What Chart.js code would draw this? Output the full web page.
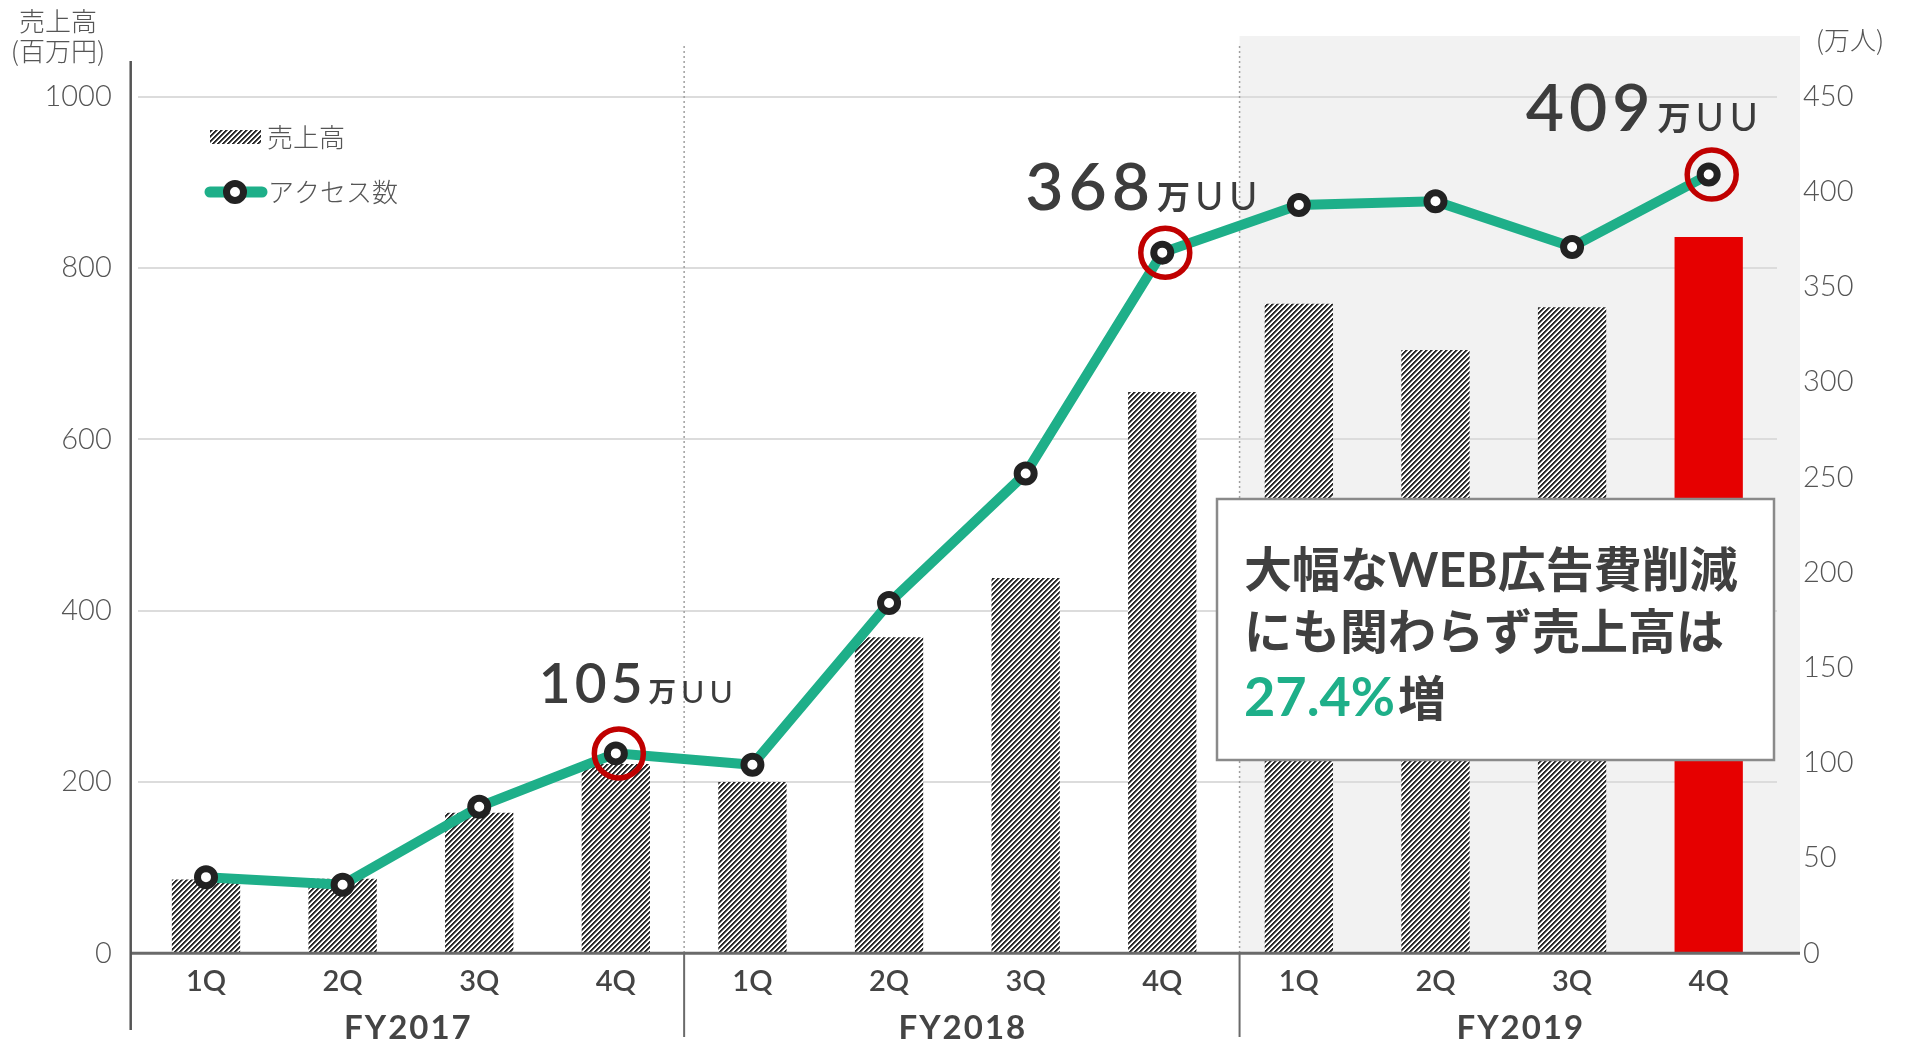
<!DOCTYPE html>
<html>
<head>
<meta charset="utf-8">
<script src="https://cdn.jsdelivr.net/npm/chart.js@4/dist/chart.umd.min.js"></script>
<style>
html,body{margin:0;padding:0;background:#fff;}
canvas{display:block;}
</style>
</head>
<body>
<canvas id="c" width="1908" height="1046"></canvas>
<script>
// ---------- data ----------
const quarterLabels = ['1Q','2Q','3Q','4Q','1Q','2Q','3Q','4Q','1Q','2Q','3Q','4Q'];
const fiscalYears = ['FY2017','FY2018','FY2019'];
const salesValues = [86, 87, 164, 221, 200, 369, 438, 655, 758, 704, 754, 836];   // 百万円
const accessValues = [40, 36, 77, 105, 99, 184, 252, 368, 393, 395, 371, 409];    // 万人
const salesTickStep = 200;
const salesMax = 1000;
const accessTickStep = 50;
const accessMax = 450;
const highlightIndex = [3, 7, 11];
const seriesNames = ['売上高', 'アクセス数'];
const leftAxisTitle = ['売上高', '(百万円)'];
const rightAxisTitle = '(万人)';
const noteLines = ['大幅なWEB広告費削減', 'にも関わらず売上高は'];
const noteGrowth = '27.4%';
const noteSuffix = '増';
const calloutUnit = ['万', 'UU'];

// ---------- styles ----------
const GREEN = '#1eaf89';
const RED_BAR = '#e60000';
const RED_RING = '#c00000';
const TEXT = '#444444';
const LATIN = 'Lato, "Noto Sans CJK JP", sans-serif';
const CJK = '"Noto Sans CJK JP", Lato, sans-serif';

const canvas = document.getElementById('c');
const mainCtx = canvas.getContext('2d');

function makeHatch() {
  const s = 5;
  const c = document.createElement('canvas');
  c.width = s; c.height = s;
  const g = c.getContext('2d');
  const img = g.createImageData(s, s);
  for (let y = 0; y < s; y++) {
    for (let x = 0; x < s; x++) {
      const k = (x + y) % s;
      const v = k < 2 ? 0x2a : (k === 2 ? 0x80 : 0xff);
      const i = (y * s + x) * 4;
      img.data[i] = v; img.data[i + 1] = v; img.data[i + 2] = v; img.data[i + 3] = 255;
    }
  }
  g.putImageData(img, 0, 0);
  return mainCtx.createPattern(c, 'repeat');
}
const hatch = makeHatch();
const barColors = salesValues.map((v, i) => i === salesValues.length - 1 ? RED_BAR : hatch);

function drawCallout(ctx, left, baseline, num, numSize, unitSize) {
  ctx.save();
  ctx.fillStyle = '#3c3c3c';
  ctx.textBaseline = 'alphabetic';
  ctx.textAlign = 'left';
  ctx.font = `600 ${numSize}px ${LATIN}`;
  ctx.letterSpacing = Math.round(numSize * 0.07) + 'px';
  ctx.fillText(num, left, baseline);
  let x = left + ctx.measureText(num).width + 2;
  ctx.font = `600 ${unitSize * 0.92}px ${CJK}`;
  ctx.letterSpacing = '0px';
  ctx.fillText(calloutUnit[0], x, baseline - 1);
  x += ctx.measureText(calloutUnit[0]).width + 5;
  ctx.font = `400 ${unitSize * 1.06}px ${LATIN}`;
  ctx.letterSpacing = Math.round(unitSize * 0.16) + 'px';
  ctx.fillText(calloutUnit[1], x, baseline);
  ctx.restore();
}

const decor = {
  id: 'decor',
  beforeDraw(chart) {
    const { ctx, chartArea, scales: { x } } = chart;
    const sep2 = (x.getPixelForValue(7) + x.getPixelForValue(8)) / 2 + 9;
    ctx.save();
    ctx.fillStyle = '#f2f2f2';
    ctx.fillRect(sep2, 36, chartArea.right + 23 - sep2, chartArea.bottom - 36);
    ctx.restore();
  },
  beforeDatasetsDraw(chart) {
    const { ctx, chartArea, scales: { x } } = chart;
    const seps = [(x.getPixelForValue(3) + x.getPixelForValue(4)) / 2,
                  (x.getPixelForValue(7) + x.getPixelForValue(8)) / 2 + 9];
    ctx.save();
    ctx.strokeStyle = '#a0a0a0';
    ctx.lineWidth = 1.5;
    ctx.setLineDash([2, 3]);
    seps.forEach(sx => {
      ctx.beginPath();
      ctx.moveTo(sx, 46);
      ctx.lineTo(sx, chartArea.bottom);
      ctx.stroke();
    });
    ctx.restore();
  },
  afterDatasetsDraw(chart) {
    const { ctx, chartArea, scales: { x } } = chart;
    const axisX = chartArea.left - 7;
    const seps = [(x.getPixelForValue(3) + x.getPixelForValue(4)) / 2,
                  (x.getPixelForValue(7) + x.getPixelForValue(8)) / 2 + 9];
    const rightEnd = chartArea.right + 23;
    ctx.save();
    // baseline (0) line
    ctx.strokeStyle = '#6a6a6a';
    ctx.lineWidth = 3;
    ctx.beginPath();
    ctx.moveTo(axisX, chartArea.bottom);
    ctx.lineTo(rightEnd, chartArea.bottom);
    ctx.stroke();
    // left axis line
    ctx.strokeStyle = '#555';
    ctx.lineWidth = 2.5;
    ctx.beginPath();
    ctx.moveTo(axisX, 61);
    ctx.lineTo(axisX, 1030);
    ctx.stroke();
    // solid separators below axis
    ctx.strokeStyle = '#6a6a6a';
    ctx.lineWidth = 2;
    seps.forEach(sx => {
      ctx.beginPath();
      ctx.moveTo(sx, chartArea.bottom);
      ctx.lineTo(sx, 1037);
      ctx.stroke();
    });
    // fiscal year labels
    const bounds = [axisX, seps[0], seps[1], rightEnd];
    ctx.fillStyle = TEXT;
    ctx.font = `700 33px ${LATIN}`;
    ctx.letterSpacing = '2px';
    ctx.textAlign = 'center';
    ctx.textBaseline = 'middle';
    fiscalYears.forEach((fy, i) => {
      ctx.fillText(fy, (bounds[i] + bounds[i + 1]) / 2 + 1, 1028);
    });
    ctx.letterSpacing = '0px';

    // red rings on highlighted points
    const lineMeta = chart.getDatasetMeta(0);
    ctx.strokeStyle = RED_RING;
    ctx.lineWidth = 5.5;
    highlightIndex.forEach(i => {
      const p = lineMeta.data[i];
      ctx.beginPath();
      ctx.arc(p.x + 3, p.y, 24.5, 0, Math.PI * 2);
      ctx.stroke();
    });
    // callouts
    const specs = [
      { dx: -77, dy: -50, big: 55, small: 30 },
      { dx: -137, dy: -43, big: 66, small: 36 },
      { dx: -183, dy: -44, big: 66, small: 36 }
    ];
    highlightIndex.forEach((i, k) => {
      const p = lineMeta.data[i];
      const s = specs[k];
      drawCallout(ctx, p.x + s.dx, p.y + s.dy, String(accessValues[i]), s.big, s.small);
    });

    // note box
    ctx.fillStyle = '#ffffff';
    ctx.fillRect(1217, 499, 557, 261);
    ctx.strokeStyle = '#8a8a8a';
    ctx.lineWidth = 2.5;
    ctx.strokeRect(1217, 499, 557, 261);
    ctx.textAlign = 'left';
    ctx.textBaseline = 'middle';
    ctx.fillStyle = '#404040';
    ctx.font = `700 48px ${LATIN}`;
    ctx.fillText(noteLines[0], 1244, 572);
    ctx.fillText(noteLines[1], 1244, 634);
    ctx.fillStyle = GREEN;
    ctx.font = `700 54px ${LATIN}`;
    ctx.fillText(noteGrowth, 1244, 699);
    const gw = ctx.measureText(noteGrowth).width;
    ctx.fillStyle = '#404040';
    ctx.font = `700 48px ${CJK}`;
    ctx.fillText(noteSuffix, 1244 + gw + 3, 698);

    // axis titles
    ctx.fillStyle = '#555';
    ctx.font = `300 26px ${CJK}`;
    ctx.textAlign = 'center';
    ctx.fillText(leftAxisTitle[0], 58, 21);
    ctx.fillText(leftAxisTitle[1], 58, 51);
    ctx.fillText(rightAxisTitle, 1850, 40);

    // legend
    ctx.fillStyle = hatch;
    ctx.fillRect(210, 130, 51, 14);
    ctx.strokeStyle = GREEN;
    ctx.lineWidth = 11;
    ctx.lineCap = 'round';
    ctx.beginPath();
    ctx.moveTo(210, 192);
    ctx.lineTo(262, 192);
    ctx.stroke();
    ctx.lineCap = 'butt';
    ctx.fillStyle = '#fff';
    ctx.strokeStyle = '#222';
    ctx.lineWidth = 7;
    ctx.beginPath();
    ctx.arc(235, 192, 8.5, 0, Math.PI * 2);
    ctx.fill();
    ctx.stroke();
    ctx.fillStyle = '#555';
    ctx.font = `300 26px ${CJK}`;
    ctx.textAlign = 'left';
    ctx.fillText(chart.data.datasets[1].label, 267, 137);
    ctx.fillText(chart.data.datasets[0].label, 268, 192);
    ctx.restore();
  }
};

const chart = new Chart(canvas, {
  type: 'bar',
  data: {
    labels: quarterLabels,
    datasets: [
      {
        type: 'line',
        label: seriesNames[1],
        data: accessValues,
        yAxisID: 'y1',
        order: 1,
        borderColor: GREEN,
        borderWidth: 10,
        tension: 0,
        pointRadius: 8.5,
        pointBorderWidth: 7,
        pointBorderColor: '#222',
        pointBackgroundColor: '#fff',
        pointHoverRadius: 8.5
      },
      {
        type: 'bar',
        label: seriesNames[0],
        data: salesValues,
        yAxisID: 'y',
        order: 2,
        backgroundColor: barColors,
        barPercentage: 0.5,
        categoryPercentage: 1.0,
        borderWidth: 0
      }
    ]
  },
  options: {
    responsive: false,
    animation: false,
    events: [],
    layout: { padding: { top: 96.5, left: 0, right: 0, bottom: 0 } },
    plugins: { legend: { display: false }, tooltip: { enabled: false } },
    scales: {
      x: {
        grid: { display: false, drawTicks: false },
        border: { display: false },
        ticks: {
          color: TEXT,
          font: { family: LATIN, size: 29, weight: '600' },
          padding: 11,
          maxRotation: 0,
          autoSkip: false
        },
        afterFit(scale) { scale.height = 92.7; }
      },
      y: {
        position: 'left',
        min: 0,
        max: salesMax,
        grid: { color: '#dcdcdc', lineWidth: 2, drawTicks: false },
        border: { display: false },
        ticks: {
          stepSize: salesTickStep,
          color: '#555',
          font: { family: LATIN, size: 29, weight: '300' },
          padding: 26,
          callback: v => String(v)
        },
        afterFit(scale) { scale.width = 137.7; }
      },
      y1: {
        position: 'right',
        min: 0,
        max: accessMax,
        grid: { display: false, drawTicks: false },
        border: { display: false },
        ticks: {
          stepSize: accessTickStep,
          color: '#555',
          font: { family: LATIN, size: 29, weight: '300' },
          padding: 26,
          callback: v => String(v)
        },
        afterFit(scale) { scale.width = 131; }
      }
    }
  },
  plugins: [decor]
});
</script>
</body>
</html>
